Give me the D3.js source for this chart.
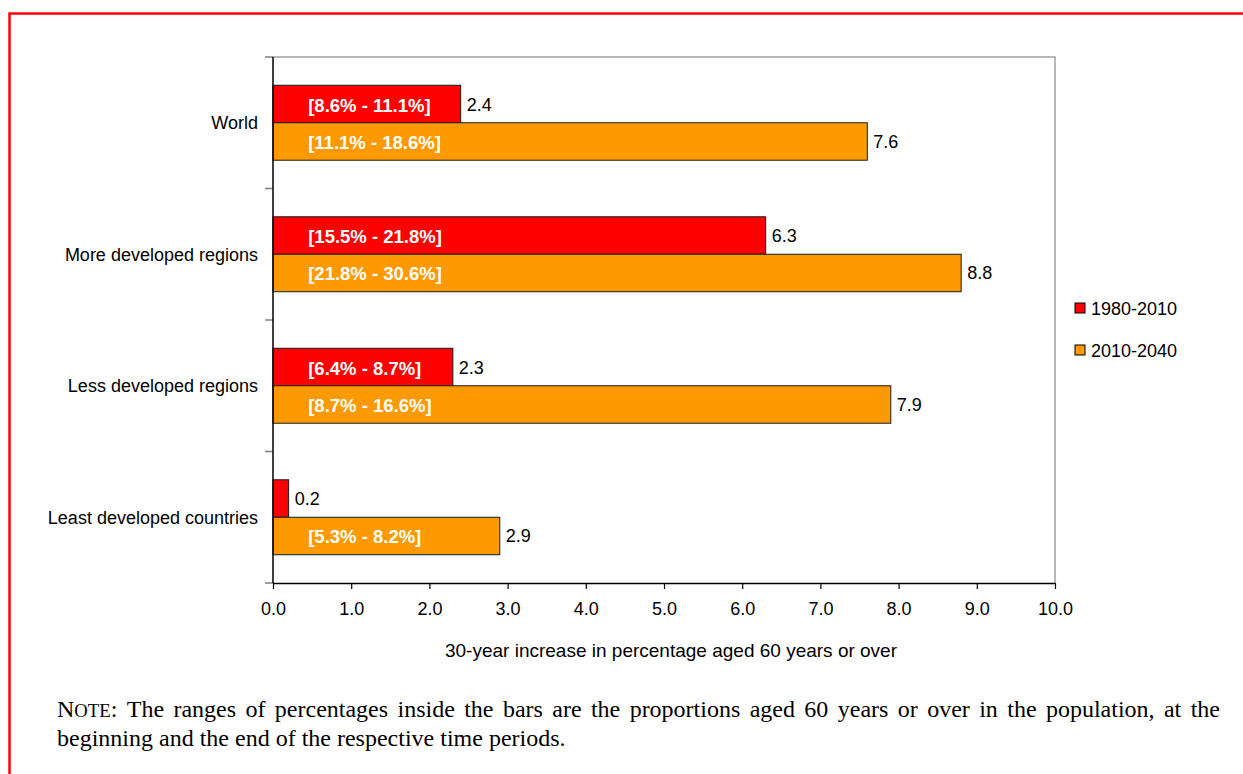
<!DOCTYPE html>
<html><head><meta charset="utf-8">
<script src="https://cdn.jsdelivr.net/npm/d3@7"></script>
<style>
html,body{margin:0;padding:0;background:#fff;}
svg{display:block;}
text{font-family:Arial,"Liberation Sans",sans-serif;}
</style></head>
<body>
<svg id="chart" width="1243" height="774"></svg>
<script>
// ---- data ----
const categories = ["World", "More developed regions", "Less developed regions", "Least developed countries"];
const seriesNames = ["1980-2010", "2010-2040"];
const values1980_2010 = [2.4, 6.3, 2.3, 0.2];
const values2010_2040 = [7.6, 8.8, 7.9, 2.9];
const ranges1980_2010 = ["[8.6% - 11.1%]", "[15.5% - 21.8%]", "[6.4% - 8.7%]", ""];
const ranges2010_2040 = ["[11.1% - 18.6%]", "[21.8% - 30.6%]", "[8.7% - 16.6%]", "[5.3% - 8.2%]"];
const xTicks = [0,1,2,3,4,5,6,7,8,9,10];
const xTitle = "30-year increase in percentage aged 60 years or over";
const noteLine1 = "The ranges of percentages inside the bars are the proportions aged 60 years or over in the population, at the";
const noteLine2 = "beginning and the end of the respective time periods.";
const colors = ["#ff0000", "#ff9900"];

const svg = d3.select("#chart");
// red frame
svg.append("rect").attr("x",9.5).attr("y",13.5).attr("width",1300).attr("height",800)
  .attr("fill","none").attr("stroke","#ff0000").attr("stroke-width",2.5);

const L=273, T=57, R=1055, B=583;
const x = d3.scaleLinear().domain([0,10]).range([L,R]);
const y = d3.scaleBand().domain(categories).range([T,B]).paddingInner(0.43).paddingOuter(0.215);
const ys = d3.scaleBand().domain(seriesNames).range([0,y.bandwidth()]);

// plot border top/right gray
svg.append("path").attr("d",`M${L},${T}H${R}V${B}`).attr("fill","none").attr("stroke","#a0a0a0").attr("stroke-width",1.5);

// y-axis tick marks (category boundaries)
const bounds = d3.range(categories.length+1).map(i => T + i*(B-T)/categories.length);
svg.selectAll(".ytick").data(bounds).join("line")
  .attr("x1",L-8).attr("x2",L).attr("y1",d=>d).attr("y2",d=>d)
  .attr("stroke","#808080").attr("stroke-width",1.5);

// bars
const rows = categories.map((c,i)=>[
  {cat:c, s:seriesNames[0], v:values1980_2010[i], r:ranges1980_2010[i], color:colors[0]},
  {cat:c, s:seriesNames[1], v:values2010_2040[i], r:ranges2010_2040[i], color:colors[1]}
]).flat();

const g = svg.append("g");
g.selectAll("rect.bar").data(rows).join("rect").attr("class","bar")
  .attr("x",x(0)).attr("y",d=>y(d.cat)+ys(d.s))
  .attr("width",d=>x(d.v)-x(0)).attr("height",ys.bandwidth())
  .attr("fill",d=>d.color).attr("stroke","#1a1a1a").attr("stroke-width",1);

g.selectAll("text.val").data(rows).join("text").attr("class","val")
  .attr("x",d=>x(d.v)+6).attr("y",d=>y(d.cat)+ys(d.s)+ys.bandwidth()/2+6.5)
  .attr("font-size",18).attr("fill","#000").text(d=>d.v.toFixed(1));

g.selectAll("text.rng").data(rows.filter(d=>d.r)).join("text").attr("class","rng")
  .attr("x",x(0.45)).attr("y",d=>y(d.cat)+ys(d.s)+ys.bandwidth()/2+7.5)
  .attr("font-size",18.5).attr("font-weight","bold").attr("fill","#fff").text(d=>d.r);

// left axis line
svg.append("line").attr("x1",L).attr("x2",L).attr("y1",T).attr("y2",B).attr("stroke","#000").attr("stroke-width",1.5);
// category labels
svg.selectAll("text.cat").data(categories).join("text").attr("class","cat")
  .attr("x",258).attr("y",d=>y(d)+y.bandwidth()/2+6.5).attr("text-anchor","end")
  .attr("font-size",18).attr("fill","#000").text(d=>d);

// x axis
const xAxis = svg.append("g").attr("transform",`translate(0,${B})`)
  .call(d3.axisBottom(x).tickValues(xTicks).tickFormat(d3.format(".1f")).tickSizeInner(6).tickSizeOuter(0).tickPadding(13));
xAxis.select(".domain").attr("stroke","#000").attr("stroke-width",1.5);
xAxis.selectAll(".tick line").attr("stroke","#000").attr("stroke-width",1.2);
xAxis.selectAll(".tick text").attr("font-size",18).attr("font-family","Arial,'Liberation Sans',sans-serif").attr("fill","#000");

svg.append("text").attr("x",671).attr("y",657).attr("text-anchor","middle")
  .attr("font-size",19).attr("fill","#000").text(xTitle);

// legend
const lg = svg.selectAll("g.leg").data(seriesNames).join("g").attr("class","leg")
  .attr("transform",(d,i)=>`translate(1075,${303+i*42})`);
lg.append("rect").attr("width",10).attr("height",10).attr("fill",(d,i)=>colors[i]).attr("stroke","#000").attr("stroke-width",1);
lg.append("text").attr("x",16).attr("y",11.5).attr("font-size",18).attr("fill","#000").text(d=>d);

// note (justified first line)
const serif = "'Liberation Serif','Times New Roman',serif";
const fs = 24;
const nl = 57, nr = 1220;
function justify(words, yb, first) {
  const grp = svg.append("g");
  const items = words.map(w => {
    const t = grp.append("text").attr("y",yb).attr("font-size",fs).attr("fill","#000").style("font-family",serif);
    if (w.smallcaps) {
      t.append("tspan").text("N");
      t.append("tspan").attr("font-size",fs*0.78).text("OTE");
      t.append("tspan").text(":");
    } else t.text(w.t);
    return t;
  });
  const widths = items.map(t=>t.node().getComputedTextLength());
  const total = d3.sum(widths);
  const gap = first ? (nr-nl-total)/(items.length-1) : fs*0.25;
  let cx = nl;
  items.forEach((t,i)=>{ t.attr("x",cx); cx += widths[i]+gap; });
}
justify([{smallcaps:true}].concat(noteLine1.split(" ").map(t=>({t}))), 717, true);
justify(noteLine2.split(" ").map(t=>({t})), 746, false);
</script>
</body></html>
